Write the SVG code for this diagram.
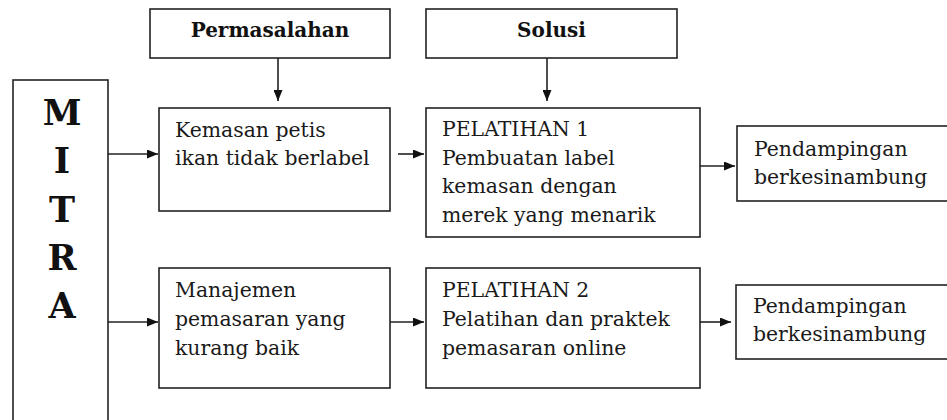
<svg xmlns="http://www.w3.org/2000/svg" width="947" height="420" viewBox="0 0 947 420">
<style>
.box{fill:#fff;stroke:#222;stroke-width:1.6}
.t{font-family:"DejaVu Serif","Liberation Serif",serif;font-size:20.4px;fill:#1a1a1a}
.h{font-family:"DejaVu Serif","Liberation Serif",serif;font-size:20px;font-weight:bold;fill:#111;text-anchor:middle}
.m{font-family:"DejaVu Serif","Liberation Serif",serif;font-size:35px;font-weight:bold;fill:#111;text-anchor:middle}
.c{stroke:#222;stroke-width:1.6;fill:none;marker-end:url(#ah)}
</style>
<defs>
<marker id="ah" viewBox="0 0 11 9" refX="11" refY="4.5" markerWidth="11" markerHeight="9" markerUnits="userSpaceOnUse" orient="auto">
<path d="M0,0 L11,4.5 L0,9 Z" fill="#111"/>
</marker>
</defs>
<rect width="947" height="420" fill="#fff"/>
<g id="mitra">
<rect class="box" x="13" y="80" width="95" height="360"/>
<text class="m" x="62" y="125">M</text>
<text class="m" x="62" y="173">I</text>
<text class="m" x="62" y="222">T</text>
<text class="m" x="62" y="270">R</text>
<text class="m" x="62" y="318">A</text>
</g>
<g id="permasalahan">
<rect class="box" x="150" y="9" width="240" height="49"/>
<text class="h" x="270" y="37">Permasalahan</text>
</g>
<g id="solusi">
<rect class="box" x="426" y="9" width="251" height="49"/>
<text class="h" x="551.5" y="37">Solusi</text>
</g>
<g id="masalah1">
<rect class="box" x="159" y="108" width="231" height="103"/>
<text class="t" x="175" y="137">Kemasan petis</text>
<text class="t" x="175" y="165">ikan tidak berlabel</text>
</g>
<g id="masalah2">
<rect class="box" x="159" y="268" width="231" height="120"/>
<text class="t" x="175" y="297">Manajemen</text>
<text class="t" x="175" y="326">pemasaran yang</text>
<text class="t" x="175" y="355">kurang baik</text>
</g>
<g id="pelatihan1">
<rect class="box" x="426" y="108" width="274" height="129"/>
<text class="t" x="442" y="136">PELATIHAN 1</text>
<text class="t" x="442" y="165">Pembuatan label</text>
<text class="t" x="442" y="193">kemasan dengan</text>
<text class="t" x="442" y="222">merek yang menarik</text>
</g>
<g id="pelatihan2">
<rect class="box" x="426" y="268" width="274" height="120"/>
<text class="t" x="442" y="297">PELATIHAN 2</text>
<text class="t" x="442" y="326">Pelatihan dan praktek</text>
<text class="t" x="442" y="355">pemasaran online</text>
</g>
<g id="pendampingan1">
<rect class="box" x="737" y="126" width="220" height="75"/>
<text class="t" x="754" y="156">Pendampingan</text>
<text class="t" x="754" y="184">berkesinambung</text>
</g>
<g id="pendampingan2">
<rect class="box" x="736" y="285" width="220" height="74"/>
<text class="t" x="753" y="313">Pendampingan</text>
<text class="t" x="753" y="341">berkesinambung</text>
</g>
<g id="connectors">
<line class="c" x1="278" y1="58" x2="278" y2="101"/>
<line class="c" x1="547" y1="58" x2="547" y2="101"/>
<line class="c" x1="108" y1="154" x2="158" y2="154"/>
<line class="c" x1="108" y1="322" x2="158" y2="322"/>
<line class="c" x1="398" y1="154" x2="424" y2="154"/>
<line class="c" x1="390" y1="322" x2="424" y2="322"/>
<line class="c" x1="700" y1="166" x2="735" y2="166"/>
<line class="c" x1="700" y1="322" x2="731" y2="322"/>
</g>
</svg>
